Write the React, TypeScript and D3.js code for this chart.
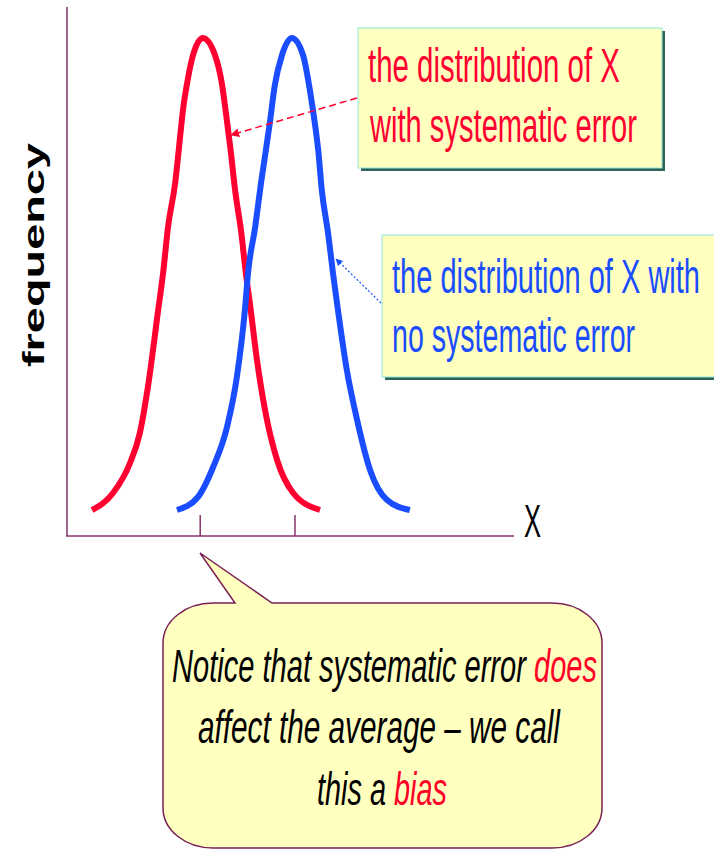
import React, { useLayoutEffect, useRef, useState } from "react";
import * as d3 from "d3";

// ---- data ----
const redX = [5.6, 10.3, 14.1, 16.3, 18.1, 20.4, 21.5, 22.6, 24.2, 25.3, 26.0, 26.8, 28.2, 30.4, 33.1, 34.7, 35.7, 36.6, 37.6, 39.0, 40.0, 40.9, 42.5, 44.3, 47.0, 50.6, 56.6];
const redFreq = [5.2, 8.6, 14.6, 20.6, 29.8, 45.2, 52.6, 61.8, 70.6, 79.8, 85.6, 90.2, 96.2, 99.6, 96.2, 90.2, 83.6, 77.2, 69.2, 60.6, 52.6, 46.6, 35.2, 25.2, 15.2, 8.6, 5.2];
const blueX = [24.6, 29.3, 32.7, 35.8, 38.0, 39.8, 40.5, 42.1, 43.4, 44.4, 45.4, 46.5, 48.1, 50.3, 52.8, 54.4, 55.5, 56.2, 57.0, 58.4, 59.5, 60.4, 62.6, 64.9, 67.8, 71.6, 76.7];
const blueFreq = [5.2, 7.8, 13.8, 21.8, 31.8, 45.2, 52.6, 61.8, 70.6, 76.6, 82.8, 90.2, 96.2, 99.6, 96.2, 88.8, 82.2, 77.2, 69.2, 60.6, 52.6, 46.6, 33.2, 23.2, 13.2, 7.2, 5.2];
const meanTicks = [29.8, 51.0];

const yLabel = "frequency";
const xLabel = "X";
const redNote = ["the distribution of X", "with systematic error"];
const blueNote = ["the distribution of X with", "no systematic error"];
const bubbleLines = [
  [{ t: "Notice that systematic error ", c: "#000" }, { t: "does", c: "#ff0026" }],
  [{ t: "affect the average \u2013 we call", c: "#000" }],
  [{ t: "this a ", c: "#000" }, { t: "bias", c: "#ff0026" }],
];

const W = 714;
const H = 850;
const RED = "#ff0030";
const BLUE = "#1a4dff";
const AXIS = "#86336a";
const FONT = "'Liberation Sans', Arial, sans-serif";

type Seg = { t: string; c: string };

// text condensed horizontally to a measured target width
function FitText(props: {
  x: number;
  y: number;
  width: number;
  size: number;
  segs: Seg[];
  italic?: boolean;
  bold?: boolean;
  rotate?: number;
  anchor?: "start" | "middle";
}) {
  const ref = useRef<SVGTextElement>(null);
  const [sx, setSx] = useState(0.6);
  useLayoutEffect(() => {
    if (ref.current) {
      const len = ref.current.getComputedTextLength();
      if (len > 0) setSx(props.width / len);
    }
  }, [props.width, props.size]);
  const rot = props.rotate ? ` rotate(${props.rotate})` : "";
  return (
    <text
      ref={ref}
      x={0}
      y={0}
      transform={`translate(${props.x},${props.y})${rot} scale(${sx},1)`}
      fontSize={props.size}
      fontStyle={props.italic ? "italic" : "normal"}
      fontWeight={props.bold ? "bold" : "normal"}
      textAnchor={props.anchor ?? "start"}
    >
      {props.segs.map((s, j) => (
        <tspan key={j} fill={s.c}>
          {s.t}
        </tspan>
      ))}
    </text>
  );
}

export default function App() {
  const x = d3.scaleLinear().domain([0, 100]).range([67, 514]);
  const y = d3.scaleLinear().domain([0, 100]).range([536, 36]);

  const line = d3
    .line<[number, number]>()
    .x((d) => x(d[0]))
    .y((d) => y(d[1]))
    .curve(d3.curveMonotoneX);

  const redPts = redX.map((v, i) => [v, redFreq[i]] as [number, number]);
  const bluePts = blueX.map((v, i) => [v, blueFreq[i]] as [number, number]);

  // bubble outline
  const bub = { l: 163, r: 602, t: 603, b: 848, rx: 50, ry: 40 };
  const bubblePath = [
    `M${bub.l},${bub.t + bub.ry}`,
    `A${bub.rx},${bub.ry} 0 0 1 ${bub.l + bub.rx},${bub.t}`,
    `L235,${bub.t}`,
    `L200,553`,
    `L272,${bub.t}`,
    `L${bub.r - bub.rx},${bub.t}`,
    `A${bub.rx},${bub.ry} 0 0 1 ${bub.r},${bub.t + bub.ry}`,
    `L${bub.r},${bub.b - bub.ry}`,
    `A${bub.rx},${bub.ry} 0 0 1 ${bub.r - bub.rx},${bub.b}`,
    `L${bub.l + bub.rx},${bub.b}`,
    `A${bub.rx},${bub.ry} 0 0 1 ${bub.l},${bub.b - bub.ry}`,
    "Z",
  ].join(" ");

  const bubbleLayout = [
    { x: 172, w: 425, y: 682 },
    { x: 198, w: 362, y: 743 },
    { x: 317, w: 130, y: 805 },
  ];

  return (
    <svg
      width={W}
      height={H}
      style={{ position: "absolute", left: 0, top: 0, background: "#fff" }}
      fontFamily={FONT}
    >
      <defs>
        <marker id="arrRed" viewBox="0 0 10 10" refX="9" refY="5" markerWidth="6" markerHeight="6" orient="auto">
          <path d="M0,0 L10,5 L0,10 Z" fill={RED} />
        </marker>
        <marker id="arrBlue" viewBox="0 0 10 10" refX="9" refY="5" markerWidth="6" markerHeight="6" orient="auto">
          <path d="M0,0 L10,5 L0,10 Z" fill={BLUE} />
        </marker>
      </defs>
      <rect x={0} y={0} width={W} height={H} fill="#fff" />

      {/* axes */}
      <line x1={x(0)} x2={x(0)} y1={7} y2={y(0)} stroke={AXIS} strokeWidth={1.5} />
      <line x1={x(0) - 1} x2={x(100)} y1={y(0)} y2={y(0)} stroke={AXIS} strokeWidth={1.5} />
      {meanTicks.map((t) => (
        <line key={t} x1={x(t)} x2={x(t)} y1={y(0) - 21} y2={y(0)} stroke={AXIS} strokeWidth={1.5} />
      ))}

      <FitText x={44} y={255} width={224} size={29} bold rotate={-90} anchor="middle" segs={[{ t: yLabel, c: "#000" }]} />
      <FitText x={524} y={537} width={17} size={47} segs={[{ t: xLabel, c: "#000" }]} />

      {/* curves */}
      <path d={line(redPts) ?? ""} fill="none" stroke={RED} strokeWidth={6} strokeLinejoin="round" />
      <path d={line(bluePts) ?? ""} fill="none" stroke={BLUE} strokeWidth={6} strokeLinejoin="round" />

      {/* red note */}
      <rect x={361} y={31} width={304} height={140} fill="#2e6355" />
      <rect x={358} y={28} width={304} height={140} fill="#ffffc0" stroke="#8ee8dc" strokeWidth={1} />
      <FitText x={368} y={82} width={252} size={48} segs={[{ t: redNote[0], c: RED }]} />
      <FitText x={370} y={142} width={267} size={48} segs={[{ t: redNote[1], c: RED }]} />
      <line x1={357} y1={98} x2={231} y2={135} stroke={RED} strokeWidth={1.5} strokeDasharray="7,4" markerEnd="url(#arrRed)" />

      {/* blue note */}
      <rect x={385} y={238} width={334} height={142} fill="#2e6355" />
      <rect x={382} y={235} width={334} height={142} fill="#ffffc0" stroke="#8ee8dc" strokeWidth={1} />
      <FitText x={392} y={293} width={308} size={49} segs={[{ t: blueNote[0], c: BLUE }]} />
      <FitText x={392} y={352} width={243} size={49} segs={[{ t: blueNote[1], c: BLUE }]} />
      <line x1={381} y1={303} x2={336} y2={259} stroke={BLUE} strokeWidth={1.2} strokeDasharray="2,2" markerEnd="url(#arrBlue)" />

      {/* callout bubble */}
      <path d={bubblePath} fill="#ffffc0" stroke="#7a1f55" strokeWidth={1.5} />
      {bubbleLines.map((segs, i) => (
        <FitText
          key={i}
          x={bubbleLayout[i].x}
          y={bubbleLayout[i].y}
          width={bubbleLayout[i].w}
          size={47}
          italic
          segs={segs}
        />
      ))}
    </svg>
  );
}
